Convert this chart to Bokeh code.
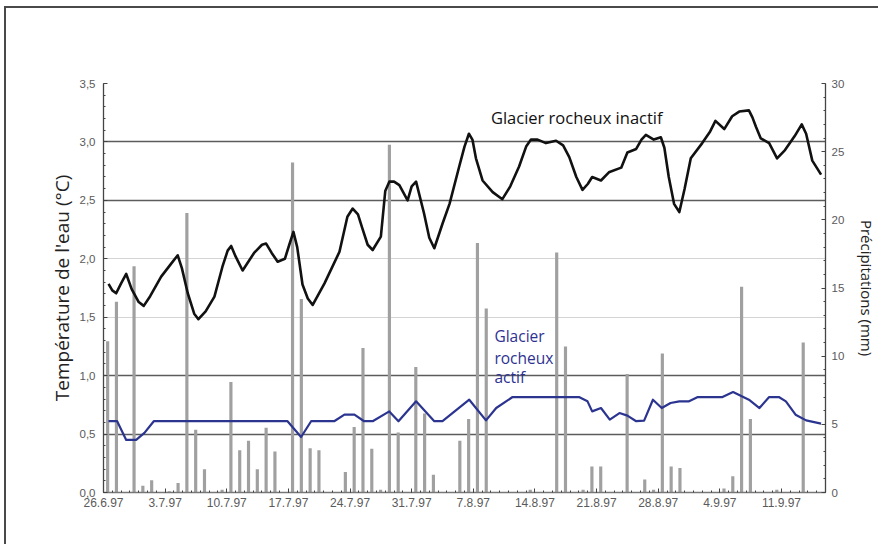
from bokeh.plotting import figure
from bokeh.models import Range1d, LinearAxis, FixedTicker, Grid
from bokeh.core.properties import value
from bokeh.embed import file_html
from bokeh.resources import INLINE

# ---- data ----
# daily precipitation (mm), day 0 = 26.6.97
precip_days = list(range(82))
precip_mm = [11.1, 14.0, 0, 16.6, 0.5, 0.9, 0, 0.1, 0.7, 20.5,
             4.6, 1.7, 0, 0.2, 8.1, 3.1, 3.8, 1.7, 4.75, 3.0,
             0, 24.2, 14.2, 3.25, 3.1, 0, 0, 1.5, 4.8, 10.6,
             3.2, 0.2, 25.5, 4.4, 0, 9.2, 5.8, 1.3, 0, 0,
             3.8, 5.4, 18.3, 13.5, 0, 0, 0, 0, 0.2, 0,
             0, 17.6, 10.7, 0, 0.2, 1.9, 1.9, 0, 0, 8.7,
             0, 0.95, 0.2, 10.2, 1.9, 1.8, 0, 0, 0, 0,
             0.3, 1.2, 15.1, 5.4, 0, 0, 0.2, 0, 0, 11.0,
             0, 0]

# water temperature, inactive rock glacier (day, degC)
inactive_day = [0.57, 1.0, 1.44, 2.0, 2.58, 3.2, 4.0, 4.57, 5.3, 6.55, 7.6, 8.43, 8.9, 9.57, 10.3, 10.78,
                11.6, 12.6, 13.5, 14.1, 14.5, 15.0, 15.8, 17.1, 18.0, 18.47, 19.1, 19.78, 20.6, 21.1,
                21.57, 22.0, 22.6, 23.2, 23.76, 25.1, 26.8, 27.7, 28.3, 28.9, 29.4, 30.0, 30.57, 31.5,
                32.0, 32.46, 33.0, 33.6, 34.54, 35.0, 35.5, 36.4, 37.0, 37.57, 38.5, 39.3, 40.4, 41.0,
                41.5, 41.9, 42.3, 43.05, 44.2, 45.3, 46.2, 47.2, 48.0, 48.55, 49.3, 50.25, 51.4, 52.2,
                52.9, 53.7, 54.4, 55.0, 55.5, 56.5, 57.4, 58.8, 59.5, 60.5, 61.1, 61.6, 62.5, 63.3,
                63.7, 64.2, 64.8, 65.4, 66.0, 66.7, 68.0, 68.9, 69.5, 70.5, 71.4, 72.2, 73.3, 73.7,
                74.1, 74.65, 75.6, 76.5, 77.4, 78.5, 79.3, 79.8, 80.5, 81.5]
inactive_temp = [1.785, 1.73, 1.705, 1.79, 1.87, 1.74, 1.63, 1.597, 1.68, 1.847, 1.95, 2.03, 1.92, 1.705,
                 1.53, 1.483, 1.55, 1.676, 1.93, 2.07, 2.11, 2.02, 1.90, 2.05, 2.12, 2.13, 2.05, 1.975,
                 2.0, 2.12, 2.23, 2.10, 1.78, 1.66, 1.605, 1.79, 2.06, 2.36, 2.43, 2.38, 2.26, 2.12,
                 2.075, 2.19, 2.58, 2.66, 2.66, 2.63, 2.50, 2.62, 2.66, 2.39, 2.18, 2.09, 2.30, 2.47,
                 2.79, 2.96, 3.07, 3.02, 2.86, 2.67, 2.57, 2.51, 2.62, 2.79, 2.96, 3.02, 3.02, 2.99,
                 3.01, 2.97, 2.87, 2.70, 2.59, 2.64, 2.70, 2.67, 2.74, 2.78, 2.91, 2.94, 3.02, 3.06,
                 3.02, 3.04, 2.95, 2.70, 2.47, 2.40, 2.60, 2.86, 2.99, 3.09, 3.18, 3.11, 3.22, 3.26,
                 3.27, 3.21, 3.13, 3.03, 2.99, 2.86, 2.93, 3.05, 3.15, 3.07, 2.84, 2.72]

# water temperature, active rock glacier (day, degC)
active_day = [0.57, 1.55, 2.58, 3.71, 4.65, 5.71, 20.9, 22.44, 23.58, 26.2,
              27.36, 28.5, 29.6, 30.57, 32.46, 33.5, 35.5, 37.57, 38.5, 41.54,
              43.44, 44.6, 46.46, 54.0, 54.97, 55.5, 56.5, 57.5, 58.6, 59.5,
              60.5, 61.4, 62.4, 63.4, 64.4, 65.4, 66.5, 67.5, 70.3, 71.5,
              73.3, 74.5, 75.6, 76.7, 77.5, 78.6, 79.8, 81.5]
active_temp = [0.61, 0.61, 0.45, 0.45, 0.51, 0.61, 0.61, 0.475, 0.61, 0.61,
               0.666, 0.666, 0.61, 0.61, 0.694, 0.61, 0.78, 0.61, 0.61, 0.794,
               0.617, 0.723, 0.817, 0.817, 0.78, 0.694, 0.723, 0.623, 0.68, 0.658,
               0.61, 0.615, 0.794, 0.723, 0.766, 0.78, 0.78, 0.817, 0.817, 0.86,
               0.794, 0.723, 0.817, 0.817, 0.78, 0.666, 0.617, 0.59]

date_ticks = [0, 7, 14, 21, 28, 35, 42, 49, 56, 63, 70, 77]
date_labels = ["26.6.97", "3.7.97", "10.7.97", "17.7.97", "24.7.97", "31.7.97",
               "7.8.97", "14.8.97", "21.8.97", "28.8.97", "4.9.97", "11.9.97"]
temp_ticks = [0.0, 0.5, 1.0, 1.5, 2.0, 2.5, 3.0, 3.5]
temp_labels = ["0,0", "0,5", "1,0", "1,5", "2,0", "2,5", "3,0", "3,5"]
precip_ticks = [0, 5, 10, 15, 20, 25, 30]

# ---- figure ----
p = figure(width=874, height=538, x_range=Range1d(0, 82), y_range=Range1d(0, 3.5),
           output_backend="svg", toolbar_location=None,
           min_border_left=97, min_border_right=55, min_border_top=75, min_border_bottom=54)
p.styles = {"border-left": "2px solid #4a4a4a", "border-top": "2px solid #4a4a4a",
            "margin-left": "4px", "margin-top": "6px"}
p.outline_line_color = None
p.background_fill_color = "white"
p.border_fill_color = "white"
p.extra_y_ranges = {"precip": Range1d(0, 30)}

p.xgrid.visible = False
p.ygrid.visible = False
dark_grid = Grid(dimension=1, ticker=FixedTicker(ticks=[0.5, 1.0, 2.5, 3.0]),
                 grid_line_color="#5c5c5c", grid_line_width=1.3)
light_grid = Grid(dimension=1, ticker=FixedTicker(ticks=[1.5, 2.0, 3.5]),
                  grid_line_color="#d4d4d4", grid_line_width=1.2)
p.add_layout(dark_grid)
p.add_layout(light_grid)

# precipitation bars
p.vbar(x=[d + 0.47 for d in precip_days], top=precip_mm, bottom=0, width=0.36,
       y_range_name="precip", fill_color="#a0a0a0", line_color=None)

# temperature lines
p.line(inactive_day, inactive_temp, line_color="#111111", line_width=2.6, line_join="round")
p.line(active_day, active_temp, line_color="#2b3590", line_width=2.2, line_join="round")

# annotations
p.text(x=[44.0], y=[3.21], text=["Glacier rocheux inactif"], text_font=value("Open Sans"),
       text_font_size="16.5px", text_color="#111111", text_baseline="middle", text_align="left")
p.text(x=[44.4, 44.4, 44.4], y=[1.335, 1.15, 0.985], text=["Glacier", "rocheux", "actif"],
       text_font=value("Open Sans"), text_font_size="15.5px", text_color="#2e3192",
       text_baseline="middle", text_align="left")

# axes styling
tick_font = "Liberation Sans"
def style_axis(ax):
    ax.axis_line_color = "#444444"
    ax.axis_line_width = 1.3
    ax.major_tick_in = 4
    ax.major_tick_out = 0
    ax.minor_tick_in = 2
    ax.minor_tick_out = 0
    ax.major_tick_line_color = "#444444"
    ax.minor_tick_line_color = "#444444"
    ax.major_label_text_font = tick_font
    ax.major_label_text_font_size = "11.5px"
    ax.major_label_text_color = "#5a5a5a"
    ax.axis_label_text_font = "Open Sans"
    ax.axis_label_text_font_style = "normal"
    ax.axis_label_text_font_size = "15px"
    ax.axis_label_text_color = "#222222"

yax = p.yaxis[0]
yax.ticker = FixedTicker(ticks=temp_ticks, minor_ticks=[i / 10 for i in range(36)])
yax.major_label_overrides = dict(zip(temp_ticks, temp_labels))
yax.axis_label = "Température de l'eau (°C)"
style_axis(yax)
yax.axis_label_text_font_size = "19px"
yax.major_label_standoff = 8
yax.axis_label_standoff = 2

xax = p.xaxis[0]
xax.ticker = FixedTicker(ticks=date_ticks, minor_ticks=list(range(83)))
xax.major_label_overrides = dict(zip(date_ticks, date_labels))
style_axis(xax)
xax.major_label_text_font_size = "12px"
xax.axis_line_color = "#777777"
xax.major_label_standoff = 5

rax = LinearAxis(y_range_name="precip",
                 ticker=FixedTicker(ticks=precip_ticks, minor_ticks=list(range(31))),
                 axis_label="Précipitations (mm)")
style_axis(rax)
rax.major_label_standoff = 6
rax.axis_label_standoff = 10
p.add_layout(rax, "right")

open("out.html", "w").write(file_html(p, INLINE))
